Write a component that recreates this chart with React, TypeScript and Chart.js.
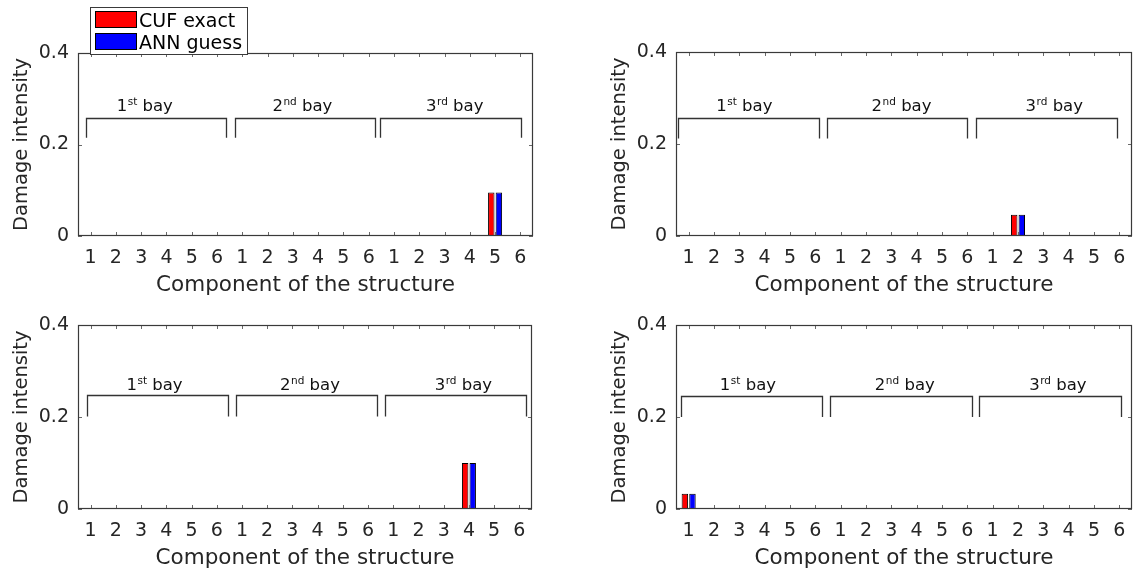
import React, { useEffect, useRef } from 'react';
import { Chart, registerables } from 'chart.js';

Chart.register(...registerables);

// ---------------- data ----------------
const componentLabels = ['1', '2', '3', '4', '5', '6', '1', '2', '3', '4', '5', '6', '1', '2', '3', '4', '5', '6'];

const cufExact1 = [0, 0, 0, 0, 0, 0, 0, 0, 0, 0, 0, 0, 0, 0, 0, 0, 0.095, 0];
const annGuess1 = [0, 0, 0, 0, 0, 0, 0, 0, 0, 0, 0, 0, 0, 0, 0, 0, 0.095, 0];

const cufExact2 = [0, 0, 0, 0, 0, 0, 0, 0, 0, 0, 0, 0, 0, 0.046, 0, 0, 0, 0];
const annGuess2 = [0, 0, 0, 0, 0, 0, 0, 0, 0, 0, 0, 0, 0, 0.046, 0, 0, 0, 0];

const cufExact3 = [0, 0, 0, 0, 0, 0, 0, 0, 0, 0, 0, 0, 0, 0, 0, 0.1, 0, 0];
const annGuess3 = [0, 0, 0, 0, 0, 0, 0, 0, 0, 0, 0, 0, 0, 0, 0, 0.1, 0, 0];

const cufExact4 = [0.033, 0, 0, 0, 0, 0, 0, 0, 0, 0, 0, 0, 0, 0, 0, 0, 0, 0];
const annGuess4 = [0.033, 0, 0, 0, 0, 0, 0, 0, 0, 0, 0, 0, 0, 0, 0, 0, 0, 0];

const yTickValues = [0, 0.2, 0.4];
const yTickLabels = ['0', '0.2', '0.4'];

const seriesNames = ['CUF exact', 'ANN guess'];
const bayNumbers = ['1', '2', '3'];
const baySuffixes = ['st', 'nd', 'rd'];
const bayWord = ' bay';
const xTitle = 'Component of the structure';
const yTitle = 'Damage intensity';

// ---------------- layout / style ----------------
const FONT = "'DejaVu Sans', sans-serif";
const TEXT = '#262626';

type Panel = {
  canvas: { x: number; y: number; w: number; h: number };
  area: { l: number; t: number; r: number; b: number };
  brackets: number[][]; // [start, end] in category units
  bracketTop: number;
  bracketBottom: number;
  labelX: number[];
  labelY: number;
  legend: boolean;
  cuf: number[];
  ann: number[];
};

const panels: Panel[] = [
  {
    canvas: { x: 0, y: 0, w: 568, h: 300 },
    area: { l: 78, t: 53, r: 533, b: 236 },
    brackets: [[-0.2, 5.37], [5.7, 11.25], [11.45, 17.01]],
    bracketTop: 0.259,
    bracketBottom: 0.215,
    labelX: [1.03, 7.19, 13.27],
    labelY: 0.273,
    legend: true,
    cuf: cufExact1,
    ann: annGuess1,
  },
  {
    canvas: { x: 598, y: 0, w: 539, h: 300 },
    area: { l: 676, t: 52, r: 1132, b: 236 },
    brackets: [[-0.42, 5.14], [5.45, 11.0], [11.34, 16.9]],
    bracketTop: 0.256,
    bracketBottom: 0.212,
    labelX: [1.09, 7.22, 13.3],
    labelY: 0.272,
    legend: false,
    cuf: cufExact2,
    ann: annGuess2,
  },
  {
    canvas: { x: 0, y: 290, w: 568, h: 281 },
    area: { l: 78, t: 325, r: 532, b: 509 },
    brackets: [[-0.14, 5.45], [5.76, 11.36], [11.66, 17.26]],
    bracketTop: 0.2485,
    bracketBottom: 0.201,
    labelX: [1.42, 7.51, 13.64],
    labelY: 0.259,
    legend: false,
    cuf: cufExact3,
    ann: annGuess3,
  },
  {
    canvas: { x: 598, y: 290, w: 539, h: 281 },
    area: { l: 676, t: 325, r: 1132, b: 509 },
    brackets: [[-0.29, 5.27], [5.59, 11.17], [11.47, 17.05]],
    bracketTop: 0.245,
    bracketBottom: 0.2,
    labelX: [1.23, 7.35, 13.44],
    labelY: 0.258,
    legend: false,
    cuf: cufExact4,
    ann: annGuess4,
  },
];

const X_TITLE_SIZE = 21.5;
const Y_TITLE_SIZE = 19.5;
const TICK_SIZE = 19;
const Y_AXIS_W = 78;

function makeDecor(p: Panel) {
  return {
    id: 'panelDecor',
    afterDraw(chart: any) {
      const ctx = chart.ctx as CanvasRenderingContext2D;
      const { left, top, right, bottom } = chart.chartArea;
      const xs = chart.scales.x;
      const ys = chart.scales.y;
      ctx.save();
      // ticks (inward)
      ctx.strokeStyle = '#6a6a6a';
      ctx.lineWidth = 1;
      ctx.beginPath();
      for (let i = 0; i < componentLabels.length; i++) {
        const px = Math.round(xs.getPixelForValue(i)) + 0.5;
        ctx.moveTo(px, bottom);
        ctx.lineTo(px, bottom - 4);
        ctx.moveTo(px, top);
        ctx.lineTo(px, top + 4);
      }
      for (const v of yTickValues) {
        const py = Math.round(ys.getPixelForValue(v)) + 0.5;
        ctx.moveTo(left, py);
        ctx.lineTo(left + 4, py);
        ctx.moveTo(right, py);
        ctx.lineTo(right - 4, py);
      }
      ctx.stroke();
      // box
      ctx.strokeStyle = '#3a3a3a';
      ctx.lineWidth = 1.2;
      ctx.strokeRect(left + 0.5, top + 0.5, right - left - 1, bottom - top - 1);
      // brackets
      ctx.strokeStyle = '#333333';
      ctx.lineWidth = 1.3;
      const yT = Math.round(ys.getPixelForValue(p.bracketTop)) + 0.5;
      const yB = ys.getPixelForValue(p.bracketBottom);
      for (const [s, e] of p.brackets) {
        const xa = Math.round(xs.getPixelForValue(s)) + 0.5;
        const xb = Math.round(xs.getPixelForValue(e)) + 0.5;
        ctx.beginPath();
        ctx.moveTo(xa, yB);
        ctx.lineTo(xa, yT);
        ctx.lineTo(xb, yT);
        ctx.lineTo(xb, yB);
        ctx.stroke();
      }
      // bay labels
      ctx.fillStyle = '#111111';
      ctx.textBaseline = 'alphabetic';
      ctx.textAlign = 'left';
      const by = ys.getPixelForValue(p.labelY);
      for (let k = 0; k < 3; k++) {
        let x = xs.getPixelForValue(p.labelX[k]);
        ctx.font = `16.5px ${FONT}`;
        ctx.fillText(bayNumbers[k], x, by);
        x += ctx.measureText(bayNumbers[k]).width + 0.5;
        ctx.font = `10.5px ${FONT}`;
        ctx.fillText(baySuffixes[k], x, by - 6);
        x += ctx.measureText(baySuffixes[k]).width;
        ctx.font = `16.5px ${FONT}`;
        ctx.fillText(bayWord, x, by);
      }
      // legend
      if (p.legend) {
        const ox = -p.canvas.x;
        const oy = -p.canvas.y;
        ctx.fillStyle = '#ffffff';
        ctx.fillRect(ox + 90, oy + 7, 158, 48);
        ctx.strokeStyle = '#3a3a3a';
        ctx.lineWidth = 1;
        ctx.strokeRect(ox + 90.5, oy + 7.5, 157, 47);
        const colors = ['#ff0000', '#0000ff'];
        const rows = [11, 33];
        for (let i = 0; i < 2; i++) {
          ctx.fillStyle = colors[i];
          ctx.fillRect(ox + 95, oy + rows[i], 42, 17);
          ctx.strokeStyle = '#000000';
          ctx.strokeRect(ox + 95.5, oy + rows[i] + 0.5, 41, 16);
          ctx.fillStyle = '#000000';
          ctx.font = `19px ${FONT}`;
          ctx.fillText(seriesNames[i], ox + 139, oy + rows[i] + 16);
        }
      }
      ctx.restore();
    },
  };
}

function PanelChart({ p }: { p: Panel }) {
  const ref = useRef<HTMLCanvasElement>(null);
  useEffect(() => {
    const { canvas, area } = p;
    const xTitleCenter = area.b + 49;
    const padBottom = canvas.y + canvas.h - xTitleCenter - (X_TITLE_SIZE * 1.2) / 2;
    const xHeight = canvas.y + canvas.h - padBottom - area.b;
    const chart = new Chart(ref.current as HTMLCanvasElement, {
      type: 'bar',
      data: {
        labels: componentLabels,
        datasets: [
          {
            label: seriesNames[0],
            data: p.cuf,
            backgroundColor: '#ff0000',
            borderColor: '#000000',
            borderWidth: 1,
            categoryPercentage: 0.6,
            barPercentage: 0.85,
          },
          {
            label: seriesNames[1],
            data: p.ann,
            backgroundColor: '#0000ff',
            borderColor: '#000000',
            borderWidth: 1,
            categoryPercentage: 0.6,
            barPercentage: 0.85,
          },
        ],
      },
      options: {
        responsive: false,
        animation: false,
        devicePixelRatio: 1,
        layout: {
          autoPadding: false,
          padding: {
            left: area.l - Y_AXIS_W - canvas.x,
            top: area.t - canvas.y,
            right: canvas.x + canvas.w - area.r,
            bottom: padBottom,
          },
        },
        plugins: {
          legend: { display: false },
          tooltip: { enabled: false },
        },
        scales: {
          x: {
            type: 'category',
            offset: true,
            grid: { display: false, drawTicks: false },
            border: { display: false },
            ticks: {
              autoSkip: false,
              maxRotation: 0,
              minRotation: 0,
              padding: 11,
              color: TEXT,
              font: { family: FONT, size: TICK_SIZE },
            },
            title: {
              display: true,
              text: xTitle,
              color: TEXT,
              font: { family: FONT, size: X_TITLE_SIZE },
              padding: 0,
            },
            afterFit: (s: any) => {
              s.height = xHeight;
            },
          },
          y: {
            min: 0,
            max: 0.4,
            grid: { display: false, drawTicks: false },
            border: { display: false },
            afterBuildTicks: (s: any) => {
              s.ticks = yTickValues.map((v) => ({ value: v }));
            },
            ticks: {
              padding: 9,
              color: TEXT,
              font: { family: FONT, size: TICK_SIZE },
              callback: (_v: any, i: number) => yTickLabels[i],
            },
            title: {
              display: true,
              text: yTitle,
              color: TEXT,
              font: { family: FONT, size: Y_TITLE_SIZE },
              padding: { top: 22 - (Y_TITLE_SIZE * 1.2) / 2, bottom: 0 },
            },
            afterFit: (s: any) => {
              s.width = Y_AXIS_W;
            },
          },
        },
      },
      plugins: [makeDecor(p)],
    } as any);
    return () => chart.destroy();
  }, [p]);
  return (
    <canvas
      ref={ref}
      width={p.canvas.w}
      height={p.canvas.h}
      style={{
        position: 'absolute',
        left: p.canvas.x,
        top: p.canvas.y,
        width: p.canvas.w,
        height: p.canvas.h,
      }}
    />
  );
}

export default function App() {
  return (
    <div style={{ position: 'absolute', left: 0, top: 0, width: 1137, height: 571, background: '#ffffff' }}>
      {panels.map((p, i) => (
        <PanelChart key={i} p={p} />
      ))}
    </div>
  );
}
